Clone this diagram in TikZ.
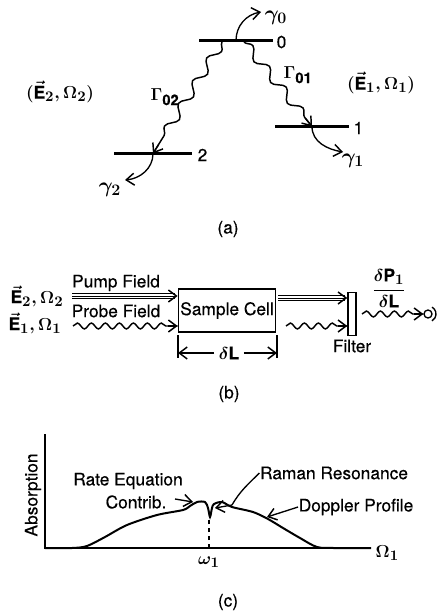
\documentclass[tikz,border=0pt]{standalone}
\usepackage{fix-cm}
\usepackage{fontspec}
\setmainfont[FakeBold=0.4]{TeX Gyre Heros}
\DeclareMathSizes{13}{13}{11}{9}
\DeclareMathSizes{16}{16}{12}{10}
\usetikzlibrary{arrows.meta,decorations.pathmorphing}
\tikzset{
  >={Straight Barb[length=6pt,width=9pt,line width=1.1pt]},
  lbl/.style={font=\fontsize{13}{15}\selectfont, inner sep=0pt},
  gam/.style={font=\fontsize{16}{18}\selectfont, inner sep=0pt},
  lvl/.style={fill=black, inner sep=0pt, minimum height=2.4pt, minimum width=#1},
  wavy/.style={line width=1.1pt, decorate, decoration={snake, amplitude=#1, segment length=10.5pt, post=lineto, post length=7pt}},
  wavy/.default=2.2pt,
  box/.style={draw, line width=1.1pt, inner sep=0pt},
}
\begin{document}
\begin{tikzpicture}[x=0.75pt, y=-0.75pt, line width=1pt]
\useasboundingbox (0,0) rectangle (437,616);
\boldmath
  % Levels
  \node[lvl=55pt] (lvlzero) at (236,40.5) {};
  \node[lvl=55pt] (lvlone) at (312,126.5) {};
  \node[lvl=58pt] (lvltwo) at (153,153.5) {};
  \node[lbl, right] (nzero) at (276,42) {0};
  \node[lbl, right] (none) at (353,128) {1};
  \node[lbl, right] (ntwo) at (197,155) {2};
  % Decay arrows
  \node[gam] (gzero) at (276,18) {$\gamma_0$};
  \node[gam] (gone) at (353,161) {$\gamma_1$};
  \node[gam] (gtwo) at (110,190) {$\gamma_2$};
  \coordinate (tipzero) at (261,12);
  \coordinate (tipone) at (343,152);
  \coordinate (tiptwo) at (125,180);
  \draw[->] (lvlzero.center) to[out=90, in=190] (tipzero);
  \draw[->] (lvlone.center) to[out=-90, in=170] (tipone);
  \draw[->] (lvltwo.center) to[out=-90, in=5] (tiptwo);
  % Relaxation between levels
  \coordinate (wzr) at (244,42);
  \coordinate (wzl) at (222,42);
  \draw[wavy=3.5pt, decoration={segment length=20pt}] (wzr) -- (lvlone.center);
  \draw[wavy=3.5pt, decoration={segment length=20pt}] (wzl) -- (lvltwo.center);
  \draw[->] ([shift={(-5pt,6.2pt)}]lvlone.center) -- (lvlone.center);
  \draw[->] ([shift={(4.3pt,6.8pt)}]lvltwo.center) -- (lvltwo.center);
  \node[lbl] (gamzo) at (298,75) {$\Gamma_{\mathrm{01}}$};
  \node[lbl] (gamzt) at (165,97) {$\Gamma_{\mathrm{02}}$};
  \node[lbl] (fldtwo) at (60,92) {$(\vec{\mathrm{E}}_2,\Omega_2)$};
  \node[lbl] (fldone) at (381,83) {$(\vec{\mathrm{E}}_1,\Omega_1)$};
  \node[lbl] (capa) at (228,229) {(a)};
  % Experiment
  \node[box, minimum width=73pt, minimum height=32.5pt, lbl] (cell) at (227,310.5) {Sample Cell};
  \node[box, minimum width=6pt, minimum height=32.5pt] (filter) at (352,314) {};
  \coordinate (pumpin) at (72,296);
  \coordinate (pumpout) at (278,298);
  \coordinate (probein) at (73,326);
  \coordinate (outprobe) at (286,326);
  \coordinate (sigout) at (362,314);
  \coordinate (probeend) at (probein -| cell.west);
  \coordinate (outend) at (outprobe -| filter.west);
  \node[draw, circle, inner sep=0pt, minimum size=6pt] (det) at (428,314) {};
  \draw[->, line width=0.6pt] (pumpin) -- (pumpin -| cell.west);
  \draw[line width=0.6pt] ([yshift=1.6pt]pumpin) -- ([yshift=1.6pt,xshift=-2pt]pumpin -| cell.west);
  \draw[line width=0.6pt] ([yshift=-1.6pt]pumpin) -- ([yshift=-1.6pt,xshift=-2pt]pumpin -| cell.west);
  \draw[->, line width=0.6pt] (pumpout) -- (pumpout -| filter.west);
  \draw[line width=0.6pt] ([yshift=1.6pt]pumpout) -- ([yshift=1.6pt,xshift=-2pt]pumpout -| filter.west);
  \draw[line width=0.6pt] ([yshift=-1.6pt]pumpout) -- ([yshift=-1.6pt,xshift=-2pt]pumpout -| filter.west);
  \draw[wavy] (probein) -- (probeend);
  \draw[wavy] (outprobe) -- (outend);
  \draw[wavy] (sigout) -- (det.west);
  \draw[->] ([xshift=-7pt]probeend) -- (probeend);
  \draw[->] ([xshift=-7pt]outend) -- (outend);
  \draw[->] ([xshift=-7pt]det.west) -- (det.west);
  \draw ([shift={(3pt,5.2pt)}]det.center) arc[start angle=60, end angle=-60, radius=6pt];
  \node[lbl] (lblpump) at (116,283) {Pump Field};
  \node[lbl] (lblprobe) at (116,311) {Probe Field};
  \node[lbl] (etwo) at (37,296) {$\vec{\mathrm{E}}_2,\Omega_2$};
  \node[lbl] (eone) at (35,323) {$\vec{\mathrm{E}}_1,\Omega_1$};
  \node[lbl] (lblfilter) at (352,346) {Filter};
  \node[lbl] (sig) at (389,288) {$\displaystyle\frac{\delta\mathrm{P}_1}{\delta\mathrm{L}}$};
  % Cell length
  \node[lbl] (dl) at (229,353) {$\delta\mathrm{L}$};
  \coordinate (tickl) at (178,335);
  \coordinate (tickr) at (277,335);
  \draw (tickl) -- ++(0,23);
  \draw (tickr) -- ++(0,23);
  \draw[->] (dl.west) ++(-3pt,0) -- (dl.west -| tickl);
  \draw[->] (dl.east) ++(3pt,0) -- (dl.east -| tickr);
  \node[lbl] (capb) at (229,394) {(b)};
  % Axes
  \coordinate (orig) at (45,548);
  \coordinate (yend) at (45,434);
  \coordinate (xend) at (371,548);
  \draw[line width=1.1pt] (yend) -- (orig) -- (xend);
  \node[lbl, right] (omg) at (375,553) {$\Omega_1$};
  \node[lbl] (wone) at (209,562) {$\omega_1$};
  \node[lbl, rotate=90] (absn) at (33,495) {Absorption};
  % Absorption curve
  \draw[line width=1.5pt] plot[smooth, tension=0.5] coordinates {
    (45,548) (72,548) (87,546) (105,537) (127,525) (157,515) (183,510) (190,506)
    (197,502) (205,502) (208,508) (210,517) (212,508) (214,504) (222,502) (232,507)
    (253,512) (268,519) (283,528) (300,538) (317,547) (335,548) (371,548)};
  \coordinate (wfoot) at (209,548);
  \coordinate (wtop) at (209,517);
  \draw[dashed] (wfoot) -- (wtop);
  % Curve labels
  \node[lbl] (rate) at (128,481) {Rate Equation};
  \node[lbl] (contrib) at (136,502) {Contrib.};
  \node[lbl] (raman) at (334,473) {Raman Resonance};
  \node[lbl] (dopp) at (356,507) {Doppler Profile};
  \coordinate (ratetip) at (193,502);
  \coordinate (ratetail) at (175,499);
  \coordinate (ramantip) at (232,505);
  \coordinate (ramanin) at (215,508);
  \coordinate (dopptip) at (267,517);
  \draw[->] (ratetail) -- (ratetip);
  \draw (raman.west) to[out=-135, in=60] (ramantip);
  \draw[->] (ramantip) to[out=-170, in=10] (ramanin);
  \draw[->] (dopp.west) -- (dopptip);
  \node[lbl] (capc) at (228,602) {(c)};
\end{tikzpicture}
\end{document}
